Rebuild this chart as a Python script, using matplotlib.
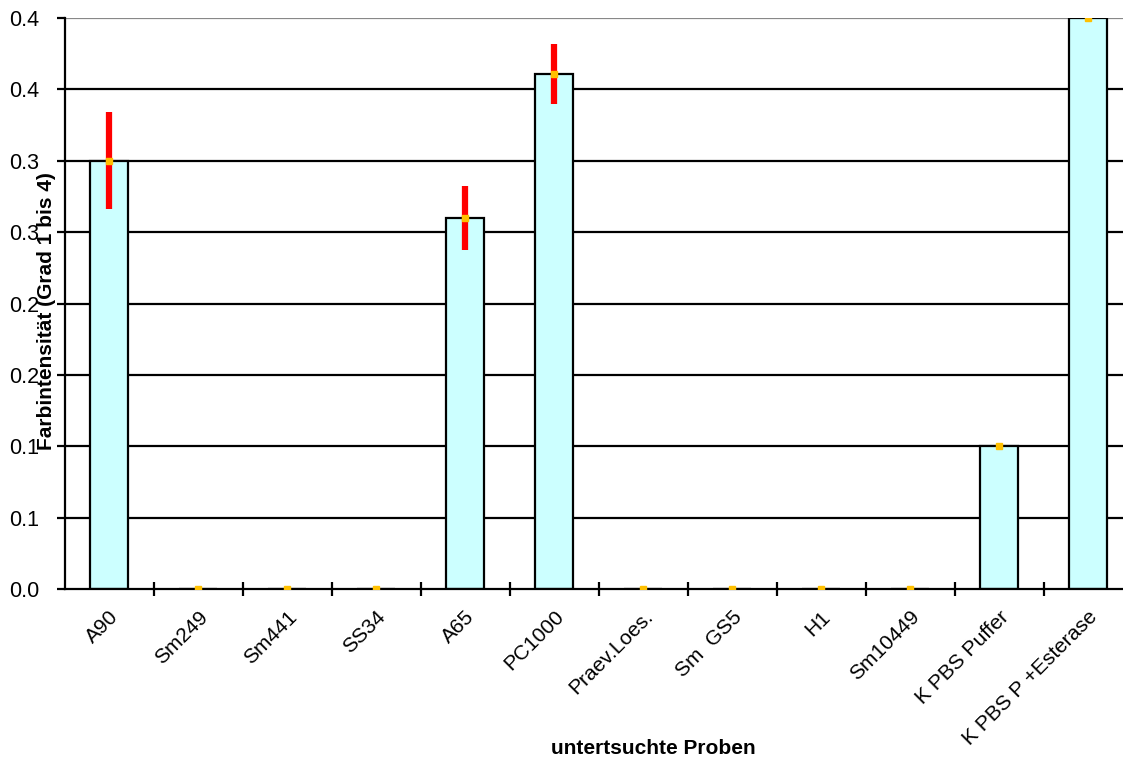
import numpy as np
import matplotlib.pyplot as plt

plt.rcParams['font.family'] = ['Liberation Sans', 'DejaVu Sans']

# data
proben = ['A90', 'Sm249', 'Sm441', 'SS34', 'A65', 'PC1000', 'Praev.Loes.',
          'Sm  GS5', 'H1', 'Sm10449', 'K PBS Puffer', 'K PBS P +Esterase']
werte = [0.30, 0.0, 0.0, 0.0, 0.26, 0.361, 0.0, 0.0, 0.0, 0.0, 0.10, 0.40]
fehler = [0.034, 0.0, 0.0, 0.0, 0.0225, 0.021, 0.0, 0.0, 0.0, 0.0, 0.0, 0.0]
y_ticks = [0.0, 0.05, 0.10, 0.15, 0.20, 0.25, 0.30, 0.35, 0.40]
y_labels = ['0.0', '0.1', '0.1', '0.2', '0.2', '0.3', '0.3', '0.4', '0.4']

fig = plt.figure(figsize=(11.23, 7.58), dpi=100)
# the plot area runs a bit past the right edge of the picture
ax = fig.add_axes([64.5 / 1123, 169 / 758, 1068 / 1123, 571 / 758])

x = np.arange(len(proben)) + 0.5

# horizontal grid
for t in y_ticks[1:]:
    col = '#888888' if t == y_ticks[-1] else 'black'
    ax.axhline(t, color=col, lw=1.6, zorder=0)

ax.bar(x, werte, width=0.42, color='#ccffff', edgecolor='black', lw=1.6, zorder=2)

err_x = [xi for xi, e in zip(x, fehler) if e > 0]
err_v = [v for v, e in zip(werte, fehler) if e > 0]
err_e = [e for e in fehler if e > 0]
ax.errorbar(err_x, err_v, yerr=err_e, fmt='none', ecolor='red', elinewidth=4.5,
            capsize=0, zorder=3)
ax.plot(x, werte, ls='none', marker='s', ms=4, color='#ffc000', mec='#ffc000', zorder=4)

ax.set_xlim(0, len(proben))
ax.set_ylim(0, 0.4)
ax.set_yticks(y_ticks)
ax.set_yticklabels(y_labels, fontsize=15.5)
ax.set_xticks(x)
ax.set_xticklabels(proben, rotation=45, ha='right', rotation_mode='anchor', fontsize=15)
ax.tick_params(axis='x', length=0, pad=13)
ax.set_xticks(np.arange(1, len(proben)), minor=True)
ax.tick_params(axis='x', which='minor', length=10, width=1.6, direction='inout')
ax.tick_params(axis='y', length=6, width=1.6, direction='out', pad=12)

for side in ['top', 'right']:
    ax.spines[side].set_visible(False)
ax.spines['left'].set_linewidth(1.6)
ax.spines['bottom'].set_linewidth(1.6)

ax.set_ylabel('Farbintensität (Grad 1 bis 4)', fontsize=15, fontweight='bold')
ax.yaxis.set_label_coords(-0.0076, 0.487)
ax.set_xlabel('untertsuchte Proben', fontsize=15, fontweight='bold')
ax.xaxis.set_label_coords(0.551, -0.262)

fig.savefig('out.png', dpi=100)
